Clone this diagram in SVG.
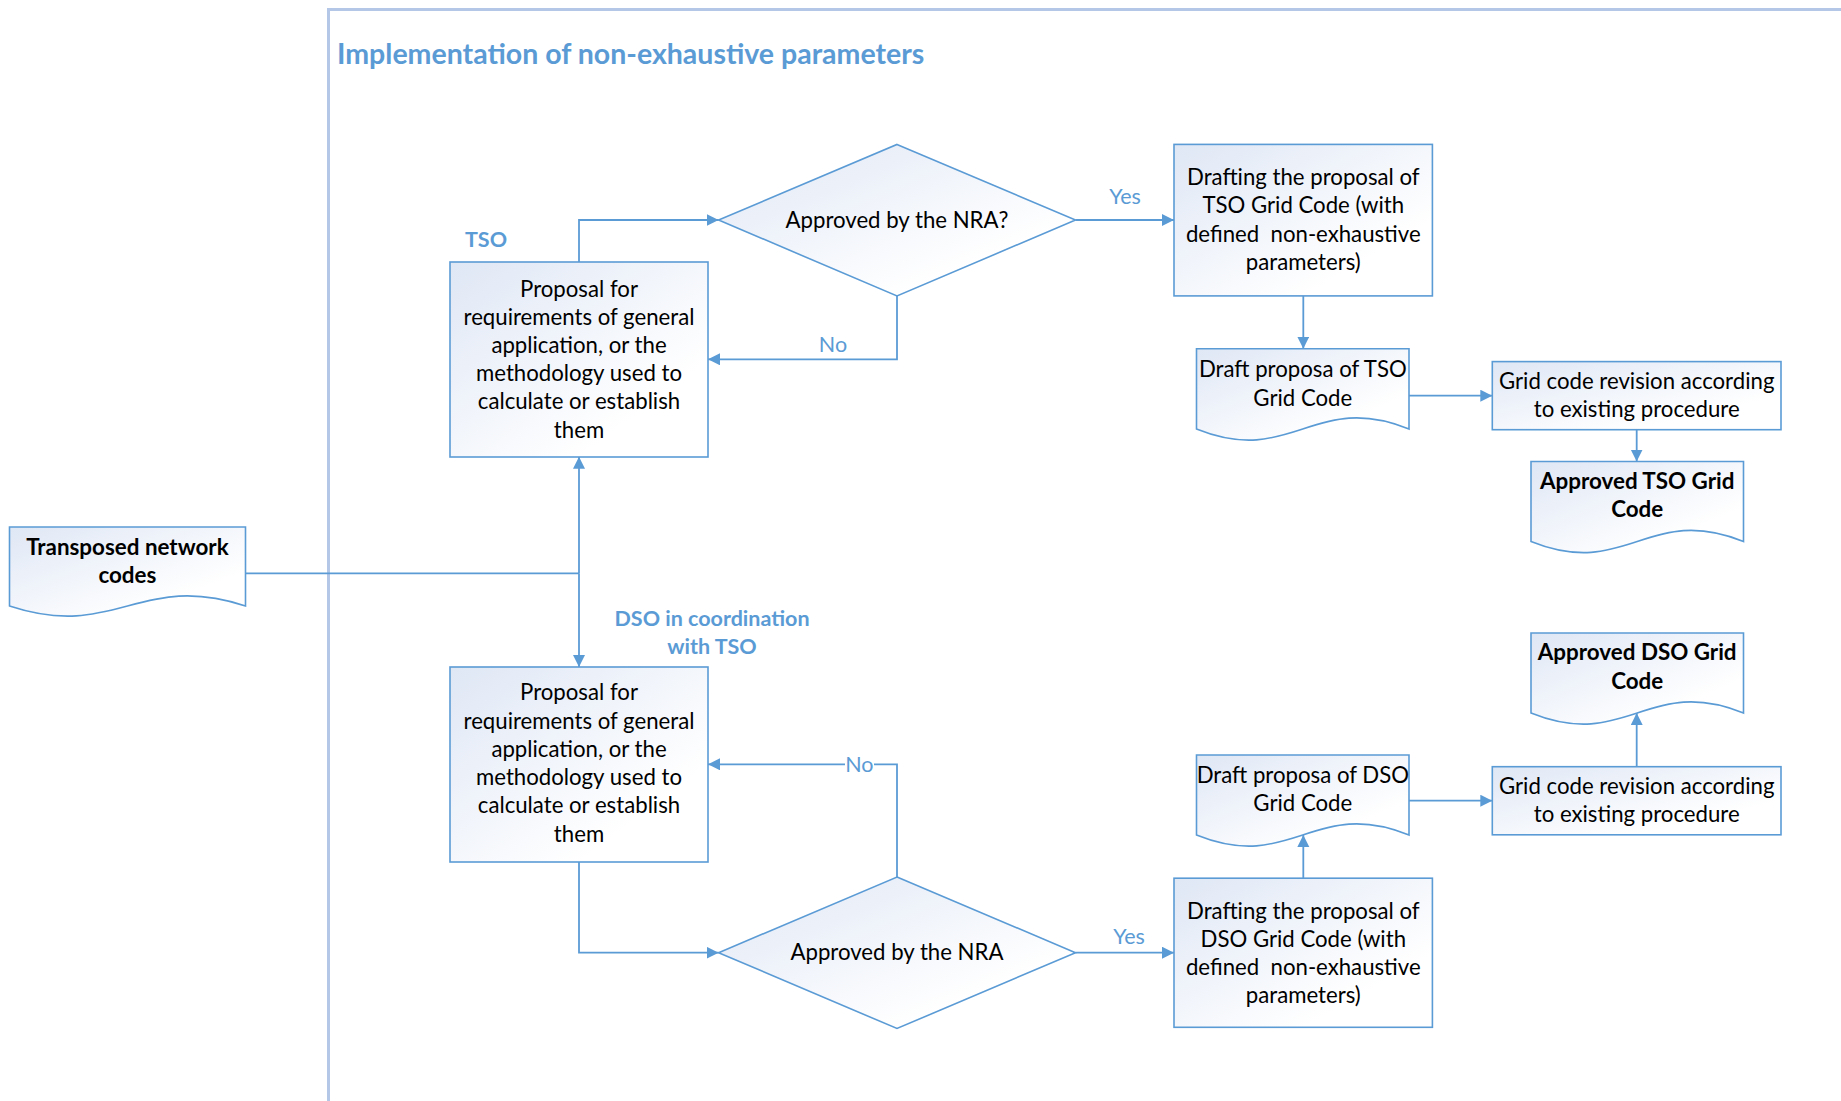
<svg xmlns="http://www.w3.org/2000/svg" width="1841" height="1101" viewBox="0 0 1841 1101">
<style>
.shape{fill:url(#grad);stroke:#5b9bd5;stroke-width:1.6}
.conn{fill:none;stroke:#5b9bd5;stroke-width:1.8}
.t{font-family:Lato,"Liberation Sans",sans-serif;font-size:22.2px;fill:#000;text-anchor:middle;white-space:pre}
.b{font-weight:bold;font-size:22.4px}
.lbl{font-family:Lato,"Liberation Sans",sans-serif;font-size:21.5px;fill:#5b9bd5}
.hd{font-family:Lato,"Liberation Sans",sans-serif;font-size:21.5px;font-weight:bold;fill:#5b9bd5}
</style>
<defs>
<linearGradient id="grad" x1="0" y1="0" x2="1" y2="1">
<stop offset="0" stop-color="#dfe7f5"/>
<stop offset="0.75" stop-color="#ffffff"/>
</linearGradient>
<marker id="arr" markerUnits="userSpaceOnUse" markerWidth="13" markerHeight="13" refX="12" refY="6" orient="auto">
<path d="M0,0 L12,6 L0,12 Z" fill="#5b9bd5"/>
</marker>
</defs>
<rect x="0" y="0" width="1841" height="1101" fill="#ffffff"/>
<g id="frame">
<path d="M1841,9.5 H328.5 V1101" fill="none" stroke="#b4c7e7" stroke-width="3"/>
<text x="337" y="64" font-family="Lato,'Liberation Sans',sans-serif" font-size="28.5" font-weight="bold" fill="#5b9bd5">Implementation of non-exhaustive parameters</text>
</g>
<g id="connectors">
<path class="conn" d="M579,262 V220 H718.6" marker-end="url(#arr)"/>
<path class="conn" d="M897,296 V359.3 H708" marker-end="url(#arr)"/>
<path class="conn" d="M1075.5,220 H1174" marker-end="url(#arr)"/>
<path class="conn" d="M1303.3,296 V348.7" marker-end="url(#arr)"/>
<path class="conn" d="M1409,395.7 H1492.3" marker-end="url(#arr)"/>
<path class="conn" d="M1636.7,429.7 V461.5" marker-end="url(#arr)"/>
<path class="conn" d="M245.5,573.3 H579"/>
<path class="conn" d="M579,573.3 V456.7" marker-end="url(#arr)"/>
<path class="conn" d="M579,573.3 V667" marker-end="url(#arr)"/>
<path class="conn" d="M579,862 V952.7 H718.6" marker-end="url(#arr)"/>
<path class="conn" d="M897,877 V764.3 H708" marker-end="url(#arr)"/>
<path class="conn" d="M1075.5,952.7 H1174" marker-end="url(#arr)"/>
<path class="conn" d="M1303.3,878.2 V835" marker-end="url(#arr)"/>
<path class="conn" d="M1409,800.7 H1492.3" marker-end="url(#arr)"/>
<path class="conn" d="M1636.7,766.7 V713" marker-end="url(#arr)"/>
<text class="lbl" x="1125" y="204" text-anchor="middle">Yes</text>
<text class="lbl" x="833" y="352" text-anchor="middle">No</text>
<rect x="845" y="752" width="29" height="24" fill="#ffffff"/>
<text class="lbl" x="859.4" y="771.5" text-anchor="middle">No</text>
<text class="lbl" x="1129" y="944" text-anchor="middle">Yes</text>
</g>
<g id="tso-label"><text class="hd" x="465" y="246.5">TSO</text></g>
<g id="dso-label">
<text class="hd" x="712" y="626" text-anchor="middle">DSO in coordination</text>
<text class="hd" x="712" y="654" text-anchor="middle">with TSO</text>
</g>
<g id="transposed">
<path class="shape" d="M9.5,527 H245.5 V606 C139.3,571 115.7,641 9.5,606 Z"/>
<text class="t b" x="127.4" y="554.5">Transposed network</text>
<text class="t b" x="127.4" y="582.8">codes</text>
</g>
<g id="tso-proposal">
<rect class="shape" x="450" y="262" width="258" height="195"/>
<text class="t" x="579" y="296.5">Proposal for</text>
<text class="t" x="579" y="324.7">requirements of general</text>
<text class="t" x="579" y="352.9">application, or the</text>
<text class="t" x="579" y="381.1">methodology used to</text>
<text class="t" x="579" y="409.3">calculate or establish</text>
<text class="t" x="579" y="437.5">them</text>
</g>
<g id="tso-decision">
<polygon class="shape" points="897,144.4 1075.5,220 897,296 718.6,220"/>
<text class="t" x="897" y="227.5">Approved by the NRA?</text>
</g>
<g id="tso-drafting">
<rect class="shape" x="1174" y="144.4" width="258.4" height="151.5"/>
<text class="t" x="1303.3" y="185">Drafting the proposal of</text>
<text class="t" x="1303.3" y="213.3">TSO Grid Code (with</text>
<text class="t" x="1303.3" y="241.6" xml:space="preserve">defined  non-exhaustive</text>
<text class="t" x="1303.3" y="269.9">parameters)</text>
</g>
<g id="tso-draft-doc">
<path class="shape" d="M1196.5,348.7 H1409 V429 C1313.4,390.5 1292.1,467.5 1196.5,429 Z"/>
<text class="t" x="1302.8" y="377.3">Draft proposa of TSO</text>
<text class="t" x="1302.8" y="405.5">Grid Code</text>
</g>
<g id="tso-revision">
<rect class="shape" x="1492.3" y="361.6" width="288.7" height="68.1"/>
<text class="t" x="1636.7" y="389">Grid code revision according</text>
<text class="t" x="1636.7" y="417.3">to existing procedure</text>
</g>
<g id="tso-approved">
<path class="shape" d="M1531,461.5 H1743.5 V541.5 C1647.9,503 1626.6,580 1531,541.5 Z"/>
<text class="t b" x="1637.2" y="489">Approved TSO Grid</text>
<text class="t b" x="1637.2" y="517.2">Code</text>
</g>
<g id="dso-proposal">
<rect class="shape" x="450" y="667" width="258" height="195"/>
<text class="t" x="579" y="700.2">Proposal for</text>
<text class="t" x="579" y="728.5">requirements of general</text>
<text class="t" x="579" y="756.8">application, or the</text>
<text class="t" x="579" y="785.1">methodology used to</text>
<text class="t" x="579" y="813.4">calculate or establish</text>
<text class="t" x="579" y="841.7">them</text>
</g>
<g id="dso-decision">
<polygon class="shape" points="897,877 1075.5,952.7 897,1028.5 718.6,952.7"/>
<text class="t" x="897" y="960.2">Approved by the NRA</text>
</g>
<g id="dso-drafting">
<rect class="shape" x="1174" y="878.2" width="258.4" height="149.1"/>
<text class="t" x="1303.3" y="918.5">Drafting the proposal of</text>
<text class="t" x="1303.3" y="946.7">DSO Grid Code (with</text>
<text class="t" x="1303.3" y="974.9" xml:space="preserve">defined  non-exhaustive</text>
<text class="t" x="1303.3" y="1003.1">parameters)</text>
</g>
<g id="dso-draft-doc">
<path class="shape" d="M1196.5,755 H1409 V835 C1313.4,796.5 1292.1,873.5 1196.5,835 Z"/>
<text class="t" x="1302.8" y="782.5">Draft proposa of DSO</text>
<text class="t" x="1302.8" y="810.7">Grid Code</text>
</g>
<g id="dso-revision">
<rect class="shape" x="1492.3" y="766.7" width="288.7" height="68.1"/>
<text class="t" x="1636.7" y="794">Grid code revision according</text>
<text class="t" x="1636.7" y="822.3">to existing procedure</text>
</g>
<g id="dso-approved">
<path class="shape" d="M1531,633 H1743.5 V713 C1647.9,674.5 1626.6,751.5 1531,713 Z"/>
<text class="t b" x="1637.2" y="660.3">Approved DSO Grid</text>
<text class="t b" x="1637.2" y="688.5">Code</text>
</g>
</svg>
